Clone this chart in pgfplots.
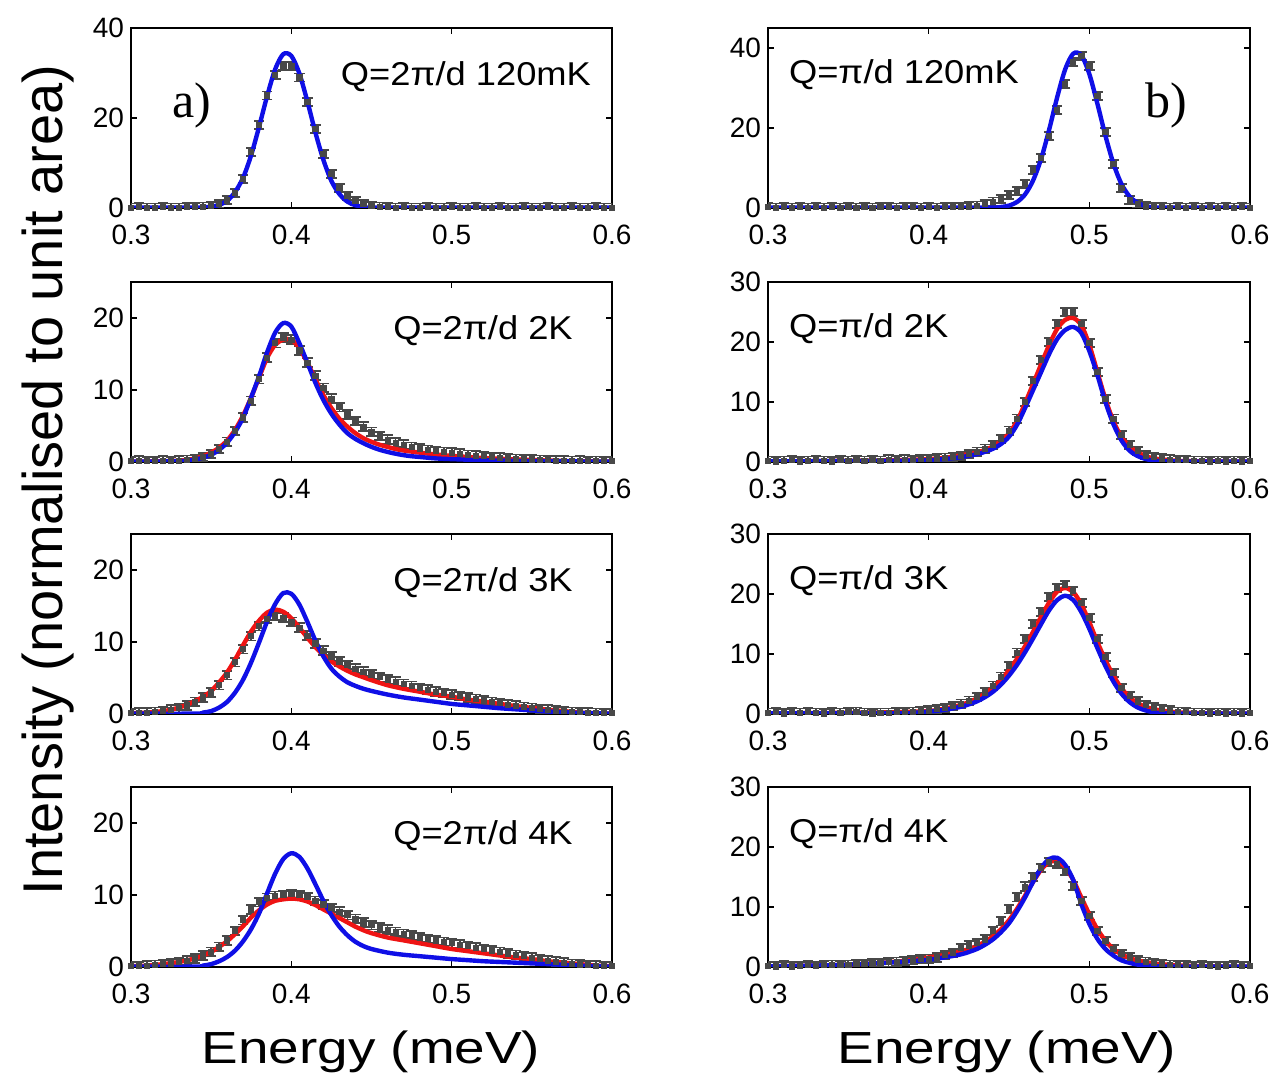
\documentclass[border=0pt]{standalone}
\usepackage{fontspec}
\setmainfont{Liberation Sans}
\newfontfamily\seriffont{Liberation Serif}
\usepackage{graphicx}
\usepackage{pgfplots}
\pgfplotsset{compat=1.18}
\definecolor{datgray}{RGB}{72,72,72}
\definecolor{fitred}{RGB}{238,20,20}
\definecolor{fitblue}{RGB}{15,15,230}
\pgfplotsset{
 panel/.style={
  scale only axis, width=240.5pt, height=90pt, anchor=south west,
  xmin=0.3, xmax=0.6, xtick={0.3,0.4,0.5,0.6},
  xticklabels={0.3,0.4,0.5,0.6},
  tick align=inside, major tick length=3pt,
  axis line style={line width=0.6pt},
  every tick/.style={line width=0.6pt, black},
  ticklabel style={font=\fontsize{14}{14}\selectfont},
  xticklabel style={yshift=-5pt},
  clip=true,
 },
 datP/.style={only marks, mark=square*, mark size=1.3pt, color=datgray,
   error bars/.cd, y dir=both, y fixed=#1,
   error bar style={line width=0.9pt, datgray},
   error mark options={rotate=90, mark size=2.6pt, line width=0.9pt, datgray}},
 datP/.default=0.6,
 fitR/.style={color=fitred, line width=2.2pt, smooth, no marks},
 fitB/.style={color=fitblue, line width=2.2pt, smooth, no marks},
}
\newcommand{\qlab}[1]{\scalebox{1.1}[1]{\fontsize{16.5}{17}\selectfont #1}}
\begin{document}
\begin{tikzpicture}
\path[use as bounding box] (0,0) rectangle (635.5pt,536.5pt);

% ---------------- a1 ----------------
\begin{axis}[panel, at={(65.5pt,432.5pt)}, ymin=0, ymax=40, ytick={0,20,40}, yticklabels={0,20,40}]
\addplot[datP=0.9] coordinates {(0.300,0.1)(0.305,0.2)(0.310,0.1)(0.315,0.1)(0.320,0.2)(0.325,0.1)(0.330,0.1)(0.335,0.2)(0.340,0.2)(0.345,0.3)(0.350,0.5)(0.355,0.9)(0.360,1.7)(0.365,3.3)(0.370,6.5)(0.375,12.5)(0.380,18.5)(0.385,25.0)(0.390,29.5)(0.395,31.5)(0.400,31.5)(0.405,29.0)(0.410,23.5)(0.415,17.5)(0.420,12.0)(0.425,7.5)(0.430,4.5)(0.435,2.6)(0.440,1.5)(0.445,0.9)(0.450,0.5)(0.455,0.3)(0.460,0.2)(0.465,0.1)(0.470,0.2)(0.475,0.1)(0.480,0.1)(0.485,0.2)(0.490,0.1)(0.495,0.1)(0.500,0.2)(0.505,0.1)(0.510,0.1)(0.515,0.2)(0.520,0.1)(0.525,0.1)(0.530,0.2)(0.535,0.1)(0.540,0.1)(0.545,0.2)(0.550,0.1)(0.555,0.1)(0.560,0.2)(0.565,0.1)(0.570,0.1)(0.575,0.2)(0.580,0.1)(0.585,0.1)(0.590,0.2)(0.595,0.1)(0.600,0.1)};
\addplot[fitB] coordinates {(0.30,0.1)(0.34,0.1)(0.345,0.15)(0.35,0.3)(0.355,0.7)(0.36,1.6)(0.365,3.6)(0.37,6.8)(0.375,11.8)(0.38,18.2)(0.385,25.0)(0.39,30.9)(0.395,34.2)(0.40,33.8)(0.405,29.9)(0.41,23.7)(0.415,16.8)(0.42,10.7)(0.425,6.0)(0.43,3.1)(0.435,1.4)(0.44,0.6)(0.445,0.25)(0.45,0.1)(0.50,0.1)(0.60,0.1)};
\node[anchor=base east] at (axis description cs:0.971,0.68) {\qlab{Q=2π/d 120mK}};
\node[anchor=base west, font=\seriffont\fontsize{25}{25}\selectfont] at (axis description cs:0.072,0.505) {a)};
\end{axis}

% ---------------- b1 ----------------
\begin{axis}[panel, at={(384pt,432.5pt)}, width=241pt, ymin=0, ymax=45, ytick={0,20,40}, yticklabels={0,20,40}]
\addplot[datP=1.0] coordinates {(0.300,0.2)(0.305,0.1)(0.310,0.2)(0.315,0.1)(0.320,0.2)(0.325,0.1)(0.330,0.2)(0.335,0.1)(0.340,0.2)(0.345,0.1)(0.350,0.2)(0.355,0.1)(0.360,0.2)(0.365,0.1)(0.370,0.2)(0.375,0.2)(0.380,0.1)(0.385,0.2)(0.390,0.2)(0.395,0.1)(0.400,0.2)(0.405,0.1)(0.410,0.2)(0.415,0.2)(0.420,0.3)(0.425,0.4)(0.430,0.6)(0.435,1.0)(0.440,1.6)(0.445,2.3)(0.450,3.2)(0.455,4.2)(0.460,6.0)(0.465,9.5)(0.470,12.5)(0.475,18.0)(0.480,24.5)(0.485,31.0)(0.490,36.5)(0.495,38.0)(0.500,35.5)(0.505,28.0)(0.510,19.0)(0.515,11.0)(0.520,5.0)(0.525,2.0)(0.530,0.9)(0.535,0.4)(0.540,0.3)(0.545,0.2)(0.550,0.1)(0.555,0.2)(0.560,0.1)(0.565,0.2)(0.570,0.1)(0.575,0.2)(0.580,0.1)(0.585,0.2)(0.590,0.1)(0.595,0.2)(0.600,0.1)};
\addplot[fitB] coordinates {(0.30,0.1)(0.44,0.1)(0.445,0.25)(0.45,0.6)(0.455,1.5)(0.46,3.4)(0.465,6.9)(0.47,12.3)(0.475,19.6)(0.48,27.7)(0.485,34.7)(0.49,38.6)(0.495,38.2)(0.50,33.5)(0.505,26.1)(0.51,18.1)(0.515,11.1)(0.52,6.0)(0.525,2.9)(0.53,1.3)(0.535,0.5)(0.54,0.15)(0.55,0.1)(0.60,0.1)};
\node[anchor=base west] at (axis description cs:0.029,0.69) {\qlab{Q=π/d 120mK}};
\node[anchor=base west, font=\seriffont\fontsize{25}{25}\selectfont] at (axis description cs:0.768,0.505) {b)};
\end{axis}

% ---------------- a2 ----------------
\begin{axis}[panel, at={(65.5pt,305.5pt)}, ymin=0, ymax=25, ytick={0,10,20}, yticklabels={0,10,20}]
\addplot[datP] coordinates {(0.300,0.1)(0.305,0.2)(0.310,0.1)(0.315,0.1)(0.320,0.2)(0.325,0.1)(0.330,0.2)(0.335,0.3)(0.340,0.4)(0.345,0.7)(0.350,1.1)(0.355,1.8)(0.360,2.8)(0.365,4.3)(0.370,6.2)(0.375,8.5)(0.380,11.5)(0.385,14.5)(0.390,16.5)(0.395,17.3)(0.400,17.0)(0.405,15.5)(0.410,13.8)(0.415,12.0)(0.420,10.3)(0.425,8.8)(0.430,7.6)(0.435,6.6)(0.440,5.7)(0.445,4.9)(0.450,4.2)(0.455,3.6)(0.460,3.1)(0.465,2.7)(0.470,2.4)(0.475,2.1)(0.480,1.9)(0.485,1.7)(0.490,1.5)(0.495,1.4)(0.500,1.3)(0.505,1.15)(0.510,1.0)(0.515,0.9)(0.520,0.8)(0.525,0.7)(0.530,0.6)(0.535,0.5)(0.540,0.45)(0.545,0.4)(0.550,0.35)(0.555,0.3)(0.560,0.25)(0.565,0.2)(0.570,0.2)(0.575,0.15)(0.580,0.2)(0.585,0.1)(0.590,0.15)(0.595,0.1)(0.600,0.1)};
\addplot[fitR] coordinates {(0.30,0.05)(0.32,0.1)(0.33,0.2)(0.335,0.3)(0.34,0.5)(0.345,0.8)(0.35,1.3)(0.355,2.0)(0.36,3.0)(0.365,4.5)(0.37,6.5)(0.375,9.0)(0.38,11.8)(0.385,14.5)(0.39,16.3)(0.395,17.0)(0.40,17.0)(0.405,15.8)(0.41,13.8)(0.415,11.5)(0.42,9.3)(0.425,7.5)(0.43,6.0)(0.435,4.9)(0.44,4.0)(0.445,3.3)(0.45,2.8)(0.455,2.4)(0.46,2.1)(0.465,1.8)(0.47,1.6)(0.48,1.3)(0.49,1.05)(0.50,0.85)(0.51,0.7)(0.52,0.55)(0.53,0.45)(0.54,0.35)(0.55,0.28)(0.56,0.2)(0.58,0.1)(0.60,0.05)};
\addplot[fitB] coordinates {(0.30,0.05)(0.33,0.1)(0.335,0.2)(0.34,0.35)(0.345,0.6)(0.35,1.0)(0.355,1.7)(0.36,2.7)(0.365,4.2)(0.37,6.2)(0.375,9.0)(0.38,12.0)(0.385,15.3)(0.39,18.0)(0.395,19.3)(0.40,18.8)(0.405,16.5)(0.41,13.8)(0.415,11.0)(0.42,8.6)(0.425,6.7)(0.43,5.2)(0.435,4.0)(0.44,3.2)(0.445,2.6)(0.45,2.1)(0.455,1.7)(0.46,1.4)(0.465,1.15)(0.47,0.95)(0.475,0.8)(0.48,0.7)(0.49,0.5)(0.50,0.4)(0.52,0.25)(0.55,0.12)(0.60,0.05)};
\node[anchor=base east] at (axis description cs:0.933,0.68) {\qlab{Q=2π/d 2K}};
\end{axis}

% ---------------- b2 ----------------
\begin{axis}[panel, at={(384pt,305.5pt)}, width=241pt, ymin=0, ymax=30, ytick={0,10,20,30}, yticklabels={0,10,20,30}]
\addplot[datP=0.7] coordinates {(0.300,0.2)(0.305,0.1)(0.310,0.2)(0.315,0.3)(0.320,0.1)(0.325,0.2)(0.330,0.3)(0.335,0.2)(0.340,0.1)(0.345,0.3)(0.350,0.2)(0.355,0.3)(0.360,0.2)(0.365,0.3)(0.370,0.2)(0.375,0.4)(0.380,0.3)(0.385,0.4)(0.390,0.3)(0.395,0.5)(0.400,0.5)(0.405,0.6)(0.410,0.7)(0.415,0.8)(0.420,1.0)(0.425,1.3)(0.430,1.7)(0.435,2.2)(0.440,2.8)(0.445,3.8)(0.450,5.2)(0.455,7.2)(0.460,10.0)(0.465,13.5)(0.470,17.0)(0.475,20.0)(0.480,23.0)(0.485,25.0)(0.490,25.0)(0.495,23.0)(0.500,19.8)(0.505,15.0)(0.510,10.5)(0.515,7.2)(0.520,4.5)(0.525,2.8)(0.530,1.8)(0.535,1.1)(0.540,0.8)(0.545,0.6)(0.550,0.4)(0.555,0.3)(0.560,0.3)(0.565,0.2)(0.570,0.2)(0.575,0.1)(0.580,0.2)(0.585,0.1)(0.590,0.2)(0.595,0.1)(0.600,0.2)};
\addplot[fitR] coordinates {(0.30,0.1)(0.35,0.2)(0.38,0.3)(0.40,0.5)(0.41,0.7)(0.42,1.1)(0.43,1.6)(0.435,2.0)(0.44,2.6)(0.445,3.5)(0.45,4.8)(0.455,6.8)(0.46,9.8)(0.465,13.0)(0.47,16.3)(0.475,19.5)(0.48,22.2)(0.485,23.7)(0.49,24.0)(0.495,22.8)(0.50,19.5)(0.505,15.0)(0.51,10.5)(0.515,6.8)(0.52,4.2)(0.525,2.6)(0.53,1.6)(0.535,1.0)(0.54,0.6)(0.55,0.3)(0.56,0.15)(0.60,0.05)};
\addplot[fitB] coordinates {(0.30,0.1)(0.38,0.2)(0.40,0.3)(0.41,0.5)(0.42,0.8)(0.43,1.3)(0.435,1.7)(0.44,2.2)(0.445,3.0)(0.45,4.2)(0.455,6.2)(0.46,9.0)(0.465,12.0)(0.47,15.0)(0.475,18.0)(0.48,20.5)(0.485,22.0)(0.49,22.5)(0.495,21.5)(0.50,18.5)(0.505,14.5)(0.51,10.0)(0.515,6.3)(0.52,3.6)(0.525,1.9)(0.53,1.0)(0.535,0.5)(0.54,0.25)(0.55,0.1)(0.60,0.05)};
\node[anchor=base west] at (axis description cs:0.029,0.69) {\qlab{Q=π/d 2K}};
\end{axis}

% ---------------- a3 ----------------
\begin{axis}[panel, at={(65.5pt,179.5pt)}, ymin=0, ymax=25, ytick={0,10,20}, yticklabels={0,10,20}]
\addplot[datP] coordinates {(0.300,0.1)(0.305,0.2)(0.310,0.2)(0.315,0.3)(0.320,0.4)(0.325,0.6)(0.330,0.8)(0.335,1.2)(0.340,1.7)(0.345,2.3)(0.350,3.0)(0.355,4.0)(0.360,5.4)(0.365,7.2)(0.370,9.0)(0.375,10.8)(0.380,12.2)(0.385,13.2)(0.390,13.6)(0.395,13.4)(0.400,12.8)(0.405,12.0)(0.410,10.9)(0.415,9.8)(0.420,8.8)(0.425,8.0)(0.430,7.3)(0.435,6.8)(0.440,6.3)(0.445,5.9)(0.450,5.5)(0.455,5.1)(0.460,4.8)(0.465,4.5)(0.470,4.2)(0.475,3.9)(0.480,3.6)(0.485,3.4)(0.490,3.1)(0.495,2.9)(0.500,2.7)(0.505,2.5)(0.510,2.3)(0.515,2.1)(0.520,1.9)(0.525,1.7)(0.530,1.5)(0.535,1.3)(0.540,1.15)(0.545,1.0)(0.550,0.85)(0.555,0.7)(0.560,0.6)(0.565,0.5)(0.570,0.4)(0.575,0.3)(0.580,0.25)(0.585,0.2)(0.590,0.15)(0.595,0.1)(0.600,0.1)};
\addplot[fitR] coordinates {(0.30,0.1)(0.31,0.2)(0.32,0.4)(0.325,0.6)(0.33,0.9)(0.335,1.3)(0.34,1.8)(0.345,2.4)(0.35,3.2)(0.355,4.4)(0.36,5.8)(0.365,7.6)(0.37,9.6)(0.375,11.5)(0.38,13.0)(0.385,14.1)(0.39,14.5)(0.395,14.2)(0.40,13.3)(0.405,12.0)(0.41,10.6)(0.415,9.3)(0.42,8.2)(0.425,7.3)(0.43,6.6)(0.435,6.0)(0.44,5.5)(0.445,5.1)(0.45,4.7)(0.46,4.0)(0.47,3.5)(0.48,3.1)(0.49,2.7)(0.50,2.4)(0.51,2.0)(0.52,1.7)(0.53,1.4)(0.54,1.1)(0.55,0.85)(0.56,0.6)(0.57,0.4)(0.58,0.2)(0.59,0.1)(0.60,0.05)};
\addplot[fitB] coordinates {(0.30,0.05)(0.34,0.05)(0.345,0.2)(0.35,0.4)(0.355,0.9)(0.36,1.7)(0.365,3.0)(0.37,4.8)(0.375,7.2)(0.38,10.0)(0.385,12.9)(0.39,15.3)(0.395,16.8)(0.40,16.7)(0.405,15.2)(0.41,12.8)(0.415,10.2)(0.42,8.0)(0.425,6.3)(0.43,5.2)(0.435,4.4)(0.44,3.9)(0.445,3.5)(0.45,3.2)(0.46,2.7)(0.47,2.3)(0.48,2.0)(0.49,1.7)(0.50,1.4)(0.51,1.2)(0.52,1.0)(0.53,0.8)(0.54,0.65)(0.55,0.5)(0.56,0.35)(0.57,0.25)(0.58,0.15)(0.59,0.1)(0.60,0.05)};
\node[anchor=base east] at (axis description cs:0.933,0.68) {\qlab{Q=2π/d 3K}};
\end{axis}

% ---------------- b3 ----------------
\begin{axis}[panel, at={(384pt,179.5pt)}, width=241pt, ymin=0, ymax=30, ytick={0,10,20,30}, yticklabels={0,10,20,30}]
\addplot[datP=0.7] coordinates {(0.300,0.2)(0.305,0.3)(0.310,0.1)(0.315,0.3)(0.320,0.2)(0.325,0.3)(0.330,0.2)(0.335,0.1)(0.340,0.3)(0.345,0.2)(0.350,0.3)(0.355,0.4)(0.360,0.2)(0.365,0.1)(0.370,0.2)(0.375,0.2)(0.380,0.3)(0.385,0.3)(0.390,0.4)(0.395,0.5)(0.400,0.6)(0.405,0.8)(0.410,1.0)(0.415,1.3)(0.420,1.7)(0.425,2.2)(0.430,2.8)(0.435,3.6)(0.440,4.7)(0.445,6.2)(0.450,8.0)(0.455,10.2)(0.460,12.5)(0.465,15.0)(0.470,17.0)(0.475,19.5)(0.480,21.0)(0.485,21.5)(0.490,20.5)(0.495,18.5)(0.500,16.0)(0.505,12.5)(0.510,9.5)(0.515,6.8)(0.520,4.3)(0.525,3.0)(0.530,2.1)(0.535,1.5)(0.540,1.1)(0.545,0.8)(0.550,0.6)(0.555,0.4)(0.560,0.3)(0.565,0.2)(0.570,0.2)(0.575,0.1)(0.580,0.2)(0.585,0.1)(0.590,0.2)(0.595,0.1)(0.600,0.2)};
\addplot[fitR] coordinates {(0.30,0.1)(0.35,0.2)(0.38,0.3)(0.40,0.5)(0.41,0.9)(0.42,1.5)(0.425,2.0)(0.43,2.6)(0.435,3.4)(0.44,4.4)(0.445,5.7)(0.45,7.3)(0.455,9.2)(0.46,11.3)(0.465,13.7)(0.47,16.2)(0.475,18.6)(0.48,20.4)(0.485,21.0)(0.49,20.3)(0.495,18.3)(0.50,15.3)(0.505,12.0)(0.51,9.0)(0.515,6.4)(0.52,4.3)(0.525,2.8)(0.53,1.8)(0.535,1.2)(0.54,0.8)(0.55,0.4)(0.56,0.2)(0.58,0.1)(0.60,0.05)};
\addplot[fitB] coordinates {(0.30,0.1)(0.38,0.1)(0.39,0.2)(0.40,0.4)(0.41,0.7)(0.42,1.2)(0.425,1.6)(0.43,2.1)(0.435,2.8)(0.44,3.7)(0.445,4.9)(0.45,6.4)(0.455,8.2)(0.46,10.3)(0.465,12.6)(0.47,15.0)(0.475,17.3)(0.48,19.0)(0.485,19.7)(0.49,19.0)(0.495,17.0)(0.50,14.2)(0.505,11.0)(0.51,8.0)(0.515,5.4)(0.52,3.4)(0.525,2.0)(0.53,1.1)(0.535,0.6)(0.54,0.3)(0.55,0.1)(0.60,0.05)};
\node[anchor=base west] at (axis description cs:0.029,0.69) {\qlab{Q=π/d 3K}};
\end{axis}

% ---------------- a4 ----------------
\begin{axis}[panel, at={(65.5pt,53pt)}, ymin=0, ymax=25, ytick={0,10,20}, yticklabels={0,10,20}]
\addplot[datP] coordinates {(0.300,0.1)(0.305,0.1)(0.310,0.2)(0.315,0.3)(0.320,0.4)(0.325,0.5)(0.330,0.7)(0.335,0.9)(0.340,1.2)(0.345,1.6)(0.350,2.1)(0.355,2.8)(0.360,3.7)(0.365,5.0)(0.370,6.5)(0.375,8.0)(0.380,9.0)(0.385,9.6)(0.390,9.9)(0.395,10.0)(0.400,10.1)(0.405,10.0)(0.410,9.7)(0.415,9.2)(0.420,8.7)(0.425,8.2)(0.430,7.7)(0.435,7.2)(0.440,6.7)(0.445,6.2)(0.450,5.8)(0.455,5.5)(0.460,5.2)(0.465,4.9)(0.470,4.6)(0.475,4.4)(0.480,4.1)(0.485,3.9)(0.490,3.7)(0.495,3.5)(0.500,3.3)(0.505,3.1)(0.510,2.9)(0.515,2.7)(0.520,2.5)(0.525,2.3)(0.530,2.1)(0.535,1.9)(0.540,1.7)(0.545,1.5)(0.550,1.3)(0.555,1.1)(0.560,0.9)(0.565,0.75)(0.570,0.6)(0.575,0.45)(0.580,0.35)(0.585,0.25)(0.590,0.2)(0.595,0.1)(0.600,0.1)};
\addplot[fitR] coordinates {(0.30,0.1)(0.31,0.2)(0.32,0.4)(0.33,0.7)(0.34,1.2)(0.345,1.6)(0.35,2.1)(0.355,2.8)(0.36,3.6)(0.365,4.6)(0.37,5.7)(0.375,6.9)(0.38,7.9)(0.385,8.7)(0.39,9.2)(0.395,9.4)(0.40,9.5)(0.405,9.4)(0.41,9.1)(0.415,8.6)(0.42,8.0)(0.425,7.4)(0.43,6.8)(0.435,6.2)(0.44,5.6)(0.445,5.1)(0.45,4.7)(0.46,4.1)(0.47,3.7)(0.48,3.3)(0.49,2.9)(0.50,2.5)(0.51,2.2)(0.52,1.9)(0.53,1.6)(0.54,1.3)(0.55,1.1)(0.56,0.8)(0.57,0.6)(0.58,0.4)(0.59,0.2)(0.60,0.1)};
\addplot[fitB] coordinates {(0.30,0.05)(0.34,0.05)(0.345,0.2)(0.35,0.4)(0.355,0.8)(0.36,1.4)(0.365,2.3)(0.37,3.6)(0.375,5.3)(0.38,7.5)(0.385,10.3)(0.39,13.0)(0.395,15.0)(0.40,15.8)(0.405,15.3)(0.41,13.7)(0.415,11.5)(0.42,9.2)(0.425,7.2)(0.43,5.6)(0.435,4.4)(0.44,3.5)(0.445,2.9)(0.45,2.5)(0.46,2.0)(0.47,1.7)(0.48,1.5)(0.49,1.3)(0.50,1.1)(0.51,0.95)(0.52,0.8)(0.53,0.7)(0.54,0.6)(0.55,0.5)(0.56,0.4)(0.57,0.3)(0.58,0.2)(0.59,0.1)(0.60,0.05)};
\node[anchor=base east] at (axis description cs:0.933,0.68) {\qlab{Q=2π/d 4K}};
\end{axis}

% ---------------- b4 ----------------
\begin{axis}[panel, at={(384pt,53pt)}, width=241pt, ymin=0, ymax=30, ytick={0,10,20,30}, yticklabels={0,10,20,30}]
\addplot[datP=0.7] coordinates {(0.300,0.2)(0.305,0.1)(0.310,0.3)(0.315,0.1)(0.320,0.2)(0.325,0.3)(0.330,0.2)(0.335,0.3)(0.340,0.4)(0.345,0.3)(0.350,0.4)(0.355,0.5)(0.360,0.5)(0.365,0.6)(0.370,0.7)(0.375,0.8)(0.380,0.9)(0.385,1.0)(0.390,1.1)(0.395,1.3)(0.400,1.4)(0.405,1.6)(0.410,2.0)(0.415,2.3)(0.420,3.2)(0.425,3.6)(0.430,4.0)(0.435,4.6)(0.440,6.0)(0.445,7.6)(0.450,9.6)(0.455,11.6)(0.460,13.4)(0.465,15.0)(0.470,16.5)(0.475,17.5)(0.480,17.2)(0.485,16.0)(0.490,13.5)(0.495,11.0)(0.500,8.5)(0.505,6.0)(0.510,4.3)(0.515,3.0)(0.520,2.2)(0.525,1.6)(0.530,1.2)(0.535,0.9)(0.540,0.7)(0.545,0.5)(0.550,0.4)(0.555,0.3)(0.560,0.3)(0.565,0.2)(0.570,0.3)(0.575,0.2)(0.580,0.1)(0.585,0.2)(0.590,0.3)(0.595,0.2)(0.600,0.2)};
\addplot[fitR] coordinates {(0.30,0.1)(0.34,0.3)(0.36,0.5)(0.38,0.9)(0.39,1.2)(0.40,1.6)(0.41,2.0)(0.42,2.6)(0.425,3.0)(0.43,3.5)(0.435,4.2)(0.44,5.1)(0.445,6.3)(0.45,7.8)(0.455,9.7)(0.46,11.9)(0.465,14.2)(0.47,16.2)(0.475,17.5)(0.48,17.6)(0.485,16.6)(0.49,14.5)(0.495,11.6)(0.50,8.8)(0.505,6.3)(0.51,4.4)(0.515,3.0)(0.52,2.1)(0.525,1.5)(0.53,1.1)(0.54,0.6)(0.55,0.35)(0.56,0.2)(0.58,0.1)(0.60,0.05)};
\addplot[fitB] coordinates {(0.30,0.1)(0.32,0.2)(0.34,0.3)(0.35,0.4)(0.36,0.5)(0.37,0.65)(0.38,0.8)(0.39,1.0)(0.40,1.2)(0.41,1.6)(0.42,2.1)(0.425,2.5)(0.43,3.0)(0.435,3.7)(0.44,4.6)(0.445,5.8)(0.45,7.3)(0.455,9.3)(0.46,11.6)(0.465,14.2)(0.47,16.5)(0.475,18.0)(0.48,18.2)(0.485,17.0)(0.49,14.5)(0.495,10.5)(0.50,7.2)(0.505,4.7)(0.51,3.0)(0.515,1.9)(0.52,1.1)(0.525,0.7)(0.53,0.4)(0.54,0.15)(0.55,0.08)(0.60,0.05)};
\node[anchor=base west] at (axis description cs:0.029,0.69) {\qlab{Q=π/d 4K}};
\end{axis}

% labels
\node[rotate=90, anchor=base, font=\fontsize{28}{28}\selectfont] at (31pt,296.5pt) {Intensity (normalised to unit area)};
\node[anchor=base] at (185.5pt,5pt) {\scalebox{1.22}[1]{\fontsize{22.5}{23}\selectfont Energy (meV)}};
\node[anchor=base] at (503.5pt,5pt) {\scalebox{1.22}[1]{\fontsize{22.5}{23}\selectfont Energy (meV)}};
\end{tikzpicture}
\end{document}
